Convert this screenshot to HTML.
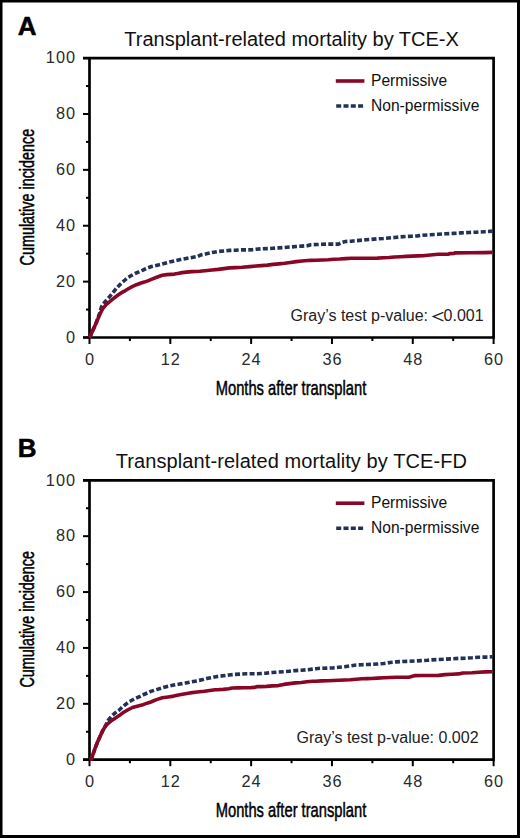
<!DOCTYPE html>
<html><head><meta charset="utf-8"><style>
html,body{margin:0;padding:0;background:#fff;}
body{width:520px;height:838px;overflow:hidden;}
svg{display:block;}
text{font-family:"Liberation Sans",sans-serif;fill:#111;}
.let{font-weight:bold;font-size:26px;fill:#000;stroke:#000;stroke-width:0.5px;}
.title{font-size:20px;}
.tl{font-size:16.3px;fill:#2a2a2a;letter-spacing:1px;}
.atl{font-size:20px;fill:#000;stroke:#000;stroke-width:0.5px;}
.lg{font-size:15.6px;fill:#111;}
.gr{font-size:16px;fill:#222;}
.tk{stroke:#000;stroke-width:2;}
.ax{stroke:#000;stroke-width:2.7;fill:none;}
</style></head><body>
<svg width="520" height="838" viewBox="0 0 520 838">
<rect x="1.25" y="1.25" width="517.25" height="835.25" fill="#fff" stroke="#000" stroke-width="2.5"/>
<rect x="517" y="0" width="3" height="838" fill="#000"/>
<rect x="0" y="835" width="520" height="3" fill="#000"/>
<text x="17.7" y="35.1" class="let">A</text>
<text x="291.6" y="46.0" class="title" text-anchor="middle">Transplant-related mortality by TCE-X</text>
<line x1="83" x2="89.5" y1="337.50" y2="337.50" class="tk"/>
<text x="76" y="342.80" class="tl" text-anchor="end">0</text>
<line x1="86" x2="89.5" y1="309.56" y2="309.56" class="tk"/>
<line x1="83" x2="89.5" y1="281.62" y2="281.62" class="tk"/>
<text x="76" y="286.92" class="tl" text-anchor="end">20</text>
<line x1="86" x2="89.5" y1="253.68" y2="253.68" class="tk"/>
<line x1="83" x2="89.5" y1="225.74" y2="225.74" class="tk"/>
<text x="76" y="231.04" class="tl" text-anchor="end">40</text>
<line x1="86" x2="89.5" y1="197.80" y2="197.80" class="tk"/>
<line x1="83" x2="89.5" y1="169.86" y2="169.86" class="tk"/>
<text x="76" y="175.16" class="tl" text-anchor="end">60</text>
<line x1="86" x2="89.5" y1="141.92" y2="141.92" class="tk"/>
<line x1="83" x2="89.5" y1="113.98" y2="113.98" class="tk"/>
<text x="76" y="119.28" class="tl" text-anchor="end">80</text>
<line x1="86" x2="89.5" y1="86.04" y2="86.04" class="tk"/>
<line x1="83" x2="89.5" y1="58.10" y2="58.10" class="tk"/>
<text x="76" y="63.40" class="tl" text-anchor="end">100</text>
<line x1="89.50" x2="89.50" y1="337.5" y2="344.0" class="tk"/>
<text x="90.00" y="365.20" class="tl" text-anchor="middle">0</text>
<line x1="129.91" x2="129.91" y1="337.5" y2="341.0" class="tk"/>
<line x1="170.32" x2="170.32" y1="337.5" y2="344.0" class="tk"/>
<text x="170.82" y="365.20" class="tl" text-anchor="middle">12</text>
<line x1="210.73" x2="210.73" y1="337.5" y2="341.0" class="tk"/>
<line x1="251.14" x2="251.14" y1="337.5" y2="344.0" class="tk"/>
<text x="251.64" y="365.20" class="tl" text-anchor="middle">24</text>
<line x1="291.55" x2="291.55" y1="337.5" y2="341.0" class="tk"/>
<line x1="331.96" x2="331.96" y1="337.5" y2="344.0" class="tk"/>
<text x="332.46" y="365.20" class="tl" text-anchor="middle">36</text>
<line x1="372.37" x2="372.37" y1="337.5" y2="341.0" class="tk"/>
<line x1="412.78" x2="412.78" y1="337.5" y2="344.0" class="tk"/>
<text x="413.28" y="365.20" class="tl" text-anchor="middle">48</text>
<line x1="453.19" x2="453.19" y1="337.5" y2="341.0" class="tk"/>
<line x1="493.60" x2="493.60" y1="337.5" y2="344.0" class="tk"/>
<text x="494.10" y="365.20" class="tl" text-anchor="middle">60</text>
<path d="M89.5,337.5 L89.5,58.1 M83,58.1 L493.6,58.1 L493.6,337.5 L83,337.5" class="ax"/>
<text transform="translate(33.5,265.4) rotate(-90) scale(0.719,1)" class="atl">Cumulative incidence</text>
<text transform="translate(215.7,395.0) scale(0.737,1)" class="atl">Months after transplant</text>
<line x1="335.8" x2="364.4" y1="81" y2="81" stroke="#8a0626" stroke-width="3.6"/>
<line x1="336.2" x2="364" y1="106" y2="106" stroke="#233156" stroke-width="3.6" stroke-dasharray="5 2.3"/>
<text x="371" y="85.5" class="lg">Permissive</text>
<text x="371" y="110.6" class="lg">Non-permissive</text>
<text x="290.5" y="321.2" class="gr">Gray’s test p-value:</text>
<polyline points="443.4,312.3 433.2,316.6 443.4,320.9" fill="none" stroke="#222" stroke-width="1.25"/>
<text x="443.6" y="321.2" class="gr">0.001</text>
<polyline points="89.5,337.3 90.5,335.5 95.7,324.1 99.5,313.5 101.6,306.5 104.5,302.5 108.3,298.2 112.2,293.6 116.7,288.0 121.5,283.0 125.0,280.0 127.9,277.6 130.8,275.8 133.7,274.3 136.5,272.9 139.4,271.5 142.3,270.3 145.2,269.0 148.1,267.8 151.5,266.6 157.3,265.2 163.1,263.7 168.8,262.2 174.6,260.8 180.4,259.6 186.2,258.5 191.9,257.5 197.7,256.5 200.8,255.0 206.5,253.8 212.3,252.5 218.1,251.5 223.8,251.0 229.6,250.4 235.4,250.2 241.2,249.9 246.9,249.9 252.7,249.6 255.8,249.3 261.5,248.8 267.3,248.6 273.1,248.3 278.8,247.9 284.6,247.5 290.4,247.0 296.2,246.5 301.9,246.1 307.7,245.6 310.8,244.8 316.5,244.5 322.3,244.3 328.1,244.1 338.5,244.1 341.9,242.5 345.4,241.5 351.2,241.2 356.9,240.6 362.7,240.1 365.8,239.8 371.5,239.4 377.3,238.8 383.1,238.5 388.8,238.0 394.6,237.5 400.4,236.9 406.2,236.5 411.9,236.2 417.7,235.9 422.7,235.2 430.4,234.8 438.1,234.3 445.8,233.8 453.5,233.4 461.2,232.9 468.8,232.5 476.5,232.2 484.2,231.7 492.5,231.1" fill="none" stroke="#233156" stroke-width="3.6" stroke-dasharray="5 2.3"/>
<polyline points="89.5,337.3 90.5,335.5 95.7,324.1 100.5,313.0 102.6,308.9 105.9,304.9 109.3,302.0 112.7,299.1 117.7,295.3 121.5,292.7 125.0,290.8 128.8,288.5 132.7,286.4 136.5,284.7 140.4,283.2 144.2,282.1 147.8,280.9 152.6,278.9 157.4,277.0 162.2,275.3 167.0,274.6 174.6,274.1 180.4,272.9 186.2,272.1 192.0,271.6 199.6,271.2 205.0,270.7 212.0,270.0 218.1,269.4 223.8,268.6 229.6,267.9 235.4,267.6 242.0,267.3 250.0,266.6 256.0,266.0 261.5,265.6 267.3,265.1 273.1,264.4 278.8,263.9 284.6,263.3 290.4,262.5 296.2,261.6 301.9,261.0 307.7,260.5 310.8,260.4 316.5,260.3 322.3,260.0 328.1,259.7 333.8,259.2 339.6,259.0 345.4,258.6 351.2,258.3 356.9,258.2 362.7,258.2 371.5,258.2 377.3,258.1 383.1,257.8 388.8,257.5 394.6,257.0 400.4,256.7 406.2,256.4 411.9,256.1 417.7,255.9 422.7,255.7 430.4,255.0 438.1,254.3 448.5,254.1 449.5,253.6 454.0,253.5 455.0,252.9 470.0,252.8 484.2,252.6 492.5,252.4" fill="none" stroke="#8a0626" stroke-width="3.6" stroke-linejoin="round"/>
<text x="17.7" y="456.7" class="let">B</text>
<text x="291.4" y="468.2" class="title" text-anchor="middle" style="letter-spacing:0.09px">Transplant-related mortality by TCE-FD</text>
<line x1="83" x2="89.5" y1="759.70" y2="759.70" class="tk"/>
<text x="76" y="765.00" class="tl" text-anchor="end">0</text>
<line x1="86" x2="89.5" y1="731.76" y2="731.76" class="tk"/>
<line x1="83" x2="89.5" y1="703.82" y2="703.82" class="tk"/>
<text x="76" y="709.12" class="tl" text-anchor="end">20</text>
<line x1="86" x2="89.5" y1="675.88" y2="675.88" class="tk"/>
<line x1="83" x2="89.5" y1="647.94" y2="647.94" class="tk"/>
<text x="76" y="653.24" class="tl" text-anchor="end">40</text>
<line x1="86" x2="89.5" y1="620.00" y2="620.00" class="tk"/>
<line x1="83" x2="89.5" y1="592.06" y2="592.06" class="tk"/>
<text x="76" y="597.36" class="tl" text-anchor="end">60</text>
<line x1="86" x2="89.5" y1="564.12" y2="564.12" class="tk"/>
<line x1="83" x2="89.5" y1="536.18" y2="536.18" class="tk"/>
<text x="76" y="541.48" class="tl" text-anchor="end">80</text>
<line x1="86" x2="89.5" y1="508.24" y2="508.24" class="tk"/>
<line x1="83" x2="89.5" y1="480.30" y2="480.30" class="tk"/>
<text x="76" y="485.60" class="tl" text-anchor="end">100</text>
<line x1="89.50" x2="89.50" y1="759.7" y2="766.2" class="tk"/>
<text x="90.00" y="787.40" class="tl" text-anchor="middle">0</text>
<line x1="129.91" x2="129.91" y1="759.7" y2="763.2" class="tk"/>
<line x1="170.32" x2="170.32" y1="759.7" y2="766.2" class="tk"/>
<text x="170.82" y="787.40" class="tl" text-anchor="middle">12</text>
<line x1="210.73" x2="210.73" y1="759.7" y2="763.2" class="tk"/>
<line x1="251.14" x2="251.14" y1="759.7" y2="766.2" class="tk"/>
<text x="251.64" y="787.40" class="tl" text-anchor="middle">24</text>
<line x1="291.55" x2="291.55" y1="759.7" y2="763.2" class="tk"/>
<line x1="331.96" x2="331.96" y1="759.7" y2="766.2" class="tk"/>
<text x="332.46" y="787.40" class="tl" text-anchor="middle">36</text>
<line x1="372.37" x2="372.37" y1="759.7" y2="763.2" class="tk"/>
<line x1="412.78" x2="412.78" y1="759.7" y2="766.2" class="tk"/>
<text x="413.28" y="787.40" class="tl" text-anchor="middle">48</text>
<line x1="453.19" x2="453.19" y1="759.7" y2="763.2" class="tk"/>
<line x1="493.60" x2="493.60" y1="759.7" y2="766.2" class="tk"/>
<text x="494.10" y="787.40" class="tl" text-anchor="middle">60</text>
<path d="M89.5,759.7 L89.5,480.3 M83,480.3 L493.6,480.3 L493.6,759.7 L83,759.7" class="ax"/>
<text transform="translate(33.5,687.6) rotate(-90) scale(0.719,1)" class="atl">Cumulative incidence</text>
<text transform="translate(215.7,817.2) scale(0.737,1)" class="atl">Months after transplant</text>
<line x1="335.8" x2="364.4" y1="503.2" y2="503.2" stroke="#8a0626" stroke-width="3.6"/>
<line x1="336.2" x2="364" y1="528.2" y2="528.2" stroke="#233156" stroke-width="3.6" stroke-dasharray="5 2.3"/>
<text x="371" y="507.7" class="lg">Permissive</text>
<text x="371" y="532.8" class="lg">Non-permissive</text>
<text x="296.5" y="742.9" class="gr">Gray’s test p-value: 0.002</text>
<polyline points="89.5,759.5 91.4,759.1 93.2,753.7 95.5,747.2 97.9,741.2 99.7,737.2 102.2,731.7 104.8,727.1 108.2,720.3 112.0,715.6 116.6,711.8 119.0,710.2 122.8,706.6 128.6,702.1 134.3,698.9 140.6,696.1 143.8,694.5 148.5,692.5 150.8,691.4 156.5,689.6 162.3,687.8 168.1,686.3 173.8,685.1 179.6,684.1 185.4,683.1 191.0,681.9 196.5,680.9 203.0,679.6 207.8,678.3 212.0,677.6 217.3,676.5 223.1,675.8 228.8,675.0 234.6,674.4 240.4,674.1 246.2,673.8 257.7,673.7 260.8,673.5 266.5,673.1 272.3,672.5 278.1,672.1 283.8,671.7 289.6,671.2 295.4,670.6 301.2,670.2 306.9,669.8 312.7,669.1 315.8,668.7 321.5,668.2 327.3,668.1 333.1,667.9 338.8,667.3 344.6,666.7 350.4,665.9 356.2,665.0 361.9,664.7 367.7,664.5 371.3,664.4 377.5,664.0 383.8,663.5 390.0,662.5 396.3,661.9 402.5,661.5 408.8,661.3 415.0,661.0 421.3,660.6 427.5,660.3 431.7,659.9 438.5,659.5 445.2,659.2 451.9,658.8 458.6,658.4 465.4,658.2 472.1,657.8 478.8,657.2 485.6,657.1 492.5,656.8" fill="none" stroke="#233156" stroke-width="3.6" stroke-dasharray="5 2.3"/>
<polyline points="89.5,759.5 91.4,759.1 93.2,753.7 95.5,747.2 97.9,741.2 99.7,737.2 102.2,731.7 104.8,727.1 107.3,724.1 110.3,721.6 113.3,719.4 116.6,717.3 119.2,715.6 122.8,712.8 127.6,710.0 132.4,707.5 137.2,706.2 142.0,705.1 145.0,703.9 148.5,702.7 150.8,702.0 156.5,699.6 162.3,697.8 168.1,697.0 173.8,696.1 179.6,694.8 185.4,693.7 190.0,692.9 197.2,692.0 204.4,691.2 211.6,690.2 215.0,689.7 217.3,689.8 223.1,689.4 228.8,688.8 232.3,688.0 238.1,687.9 243.8,687.7 249.6,687.7 254.2,687.4 257.7,686.6 260.8,686.6 266.5,686.4 272.3,685.9 278.1,685.6 283.8,684.4 289.6,683.6 295.4,682.9 301.2,682.5 306.9,681.8 312.7,681.2 315.8,681.2 321.5,680.9 327.3,680.7 333.1,680.5 338.8,680.2 344.6,680.0 350.4,679.8 356.2,679.2 361.9,678.8 367.7,678.6 371.3,678.5 377.5,678.1 383.8,677.8 390.0,677.5 396.3,677.3 408.8,677.3 412.5,676.3 415.0,675.6 421.3,675.5 427.5,675.5 438.5,675.4 445.2,674.6 451.9,674.3 458.6,673.9 462.7,673.0 472.1,672.7 478.8,672.3 485.6,671.9 492.5,671.8" fill="none" stroke="#8a0626" stroke-width="3.6" stroke-linejoin="round"/>
</svg>
</body></html>
